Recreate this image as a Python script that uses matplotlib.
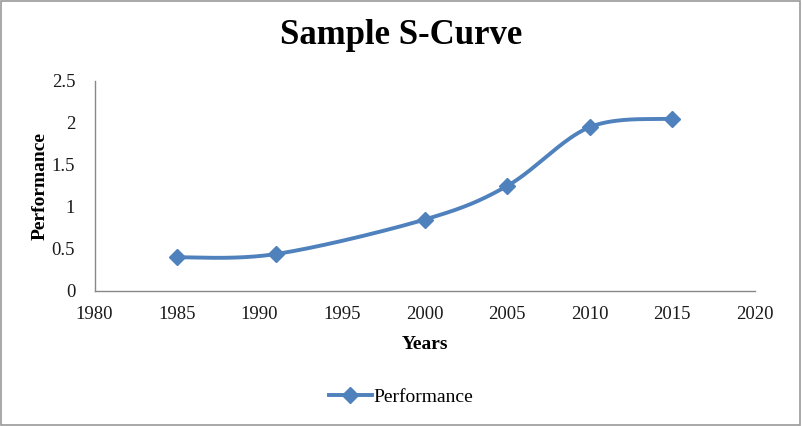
import numpy as np
import matplotlib
matplotlib.use("Agg")
import matplotlib.pyplot as plt
from matplotlib.patches import Rectangle

# Values
years = [1985, 1991, 2000, 2005, 2010, 2015]
performance = [0.40, 0.44, 0.85, 1.25, 1.95, 2.05]
x_ticks = [1980, 1985, 1990, 1995, 2000, 2005, 2010, 2015, 2020]
y_ticks = [0, 0.5, 1, 1.5, 2, 2.5]
y_tick_labels = ["0", "0.5", "1", "1.5", "2", "2.5"]


def smooth(xs, ys, n=40):
    # Excel-like smoothed line: cubic Bezier with Catmull-Rom control points
    px = np.asarray(xs, float)
    py = np.asarray(ys, float)
    out_x, out_y = [], []
    t = np.linspace(0, 1, n)
    for i in range(len(px) - 1):
        p0 = np.array([px[max(i - 1, 0)], py[max(i - 1, 0)]])
        p1 = np.array([px[i], py[i]])
        p2 = np.array([px[i + 1], py[i + 1]])
        p3 = np.array([px[min(i + 2, len(px) - 1)], py[min(i + 2, len(px) - 1)]])
        c1 = p1 + (p2 - p0) / 6
        c2 = p2 - (p3 - p1) / 6
        b = ((1 - t) ** 3)[:, None] * p1 + (3 * (1 - t) ** 2 * t)[:, None] * c1 \
            + (3 * (1 - t) * t ** 2)[:, None] * c2 + (t ** 3)[:, None] * p2
        out_x.extend(b[:, 0])
        out_y.extend(b[:, 1])
    return out_x, out_y


plt.rcParams["font.family"] = ["Liberation Serif", "DejaVu Serif"]
color = "#4F81BD"

fig = plt.figure(figsize=(8.02, 4.26), dpi=100)
ax = fig.add_axes([0.118, 0.317, 0.823, 0.493])

sx, sy = smooth(years, performance)
ax.plot(sx, sy, color=color, linewidth=2.8, solid_capstyle="round")
ax.plot(years, performance, linestyle="none", marker="D", markersize=8,
        color=color)
# legend proxy
ax.plot([], [], color=color, linewidth=2.8, marker="D", markersize=8,
        label="Performance")

ax.set_xlim(1980, 2020)
ax.set_ylim(0, 2.5)
ax.set_xticks(x_ticks)
ax.set_yticks(y_ticks)
ax.set_yticklabels(y_tick_labels)
ax.tick_params(length=0, labelsize=13.5, colors="#1a1a1a")
ax.tick_params(axis="y", pad=14)
ax.tick_params(axis="x", pad=11)
for s in ["top", "right"]:
    ax.spines[s].set_visible(False)
for s in ["left", "bottom"]:
    ax.spines[s].set_color("#888888")
    ax.spines[s].set_linewidth(1)

ax.set_xlabel("Years", fontsize=14, fontweight="bold", labelpad=9)
ax.set_ylabel("Performance", fontsize=14, fontweight="bold", labelpad=2)
fig.suptitle("Sample S-Curve", fontsize=25, fontweight="bold", y=0.955)

fig.legend(loc="center", bbox_to_anchor=(0.5, 0.068), frameon=False,
           fontsize=14, handlelength=2.2, handletextpad=0.1)

fig.patches.append(Rectangle((0.001, 0.002), 0.997, 0.995, transform=fig.transFigure,
                             fill=False, edgecolor="#999999", linewidth=1.2))

fig.savefig("out.png", dpi=100)
